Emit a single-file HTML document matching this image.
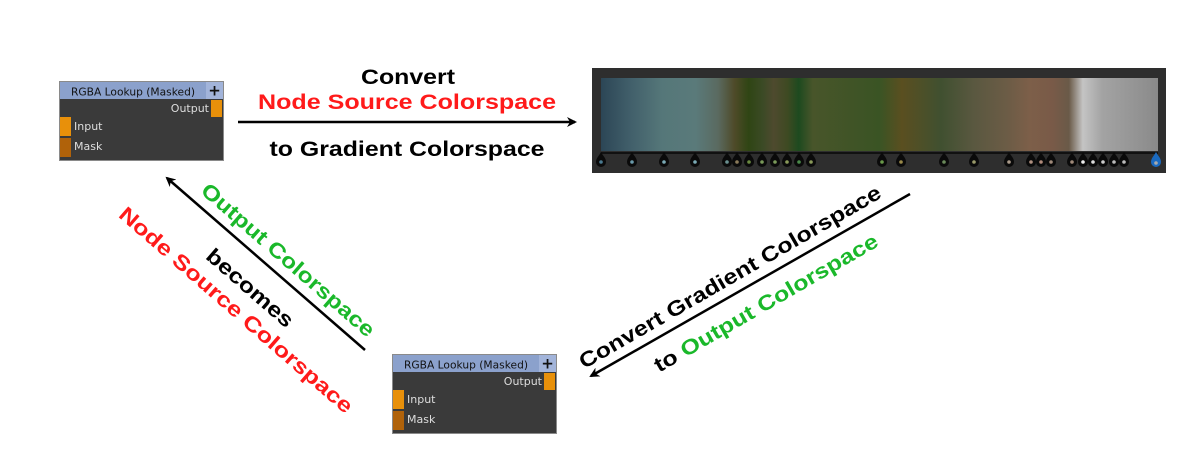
<!DOCTYPE html>
<html><head><meta charset="utf-8"><style>
html,body{margin:0;padding:0;background:#fff;width:1200px;height:468px;overflow:hidden}
svg{display:block}
.t{font-family:"Liberation Sans",sans-serif;font-weight:bold;font-size:21px}
.n{font-family:"DejaVu Sans","Liberation Sans",sans-serif;font-size:11px}
</style></head><body>
<svg width="1200" height="468" viewBox="0 0 1200 468" xmlns="http://www.w3.org/2000/svg">
<defs>
<linearGradient id="g" x1="0" x2="1" y1="0" y2="0">
<stop offset="0" stop-color="#2c4656"/>
<stop offset="0.055" stop-color="#42606b"/>
<stop offset="0.11" stop-color="#557779"/>
<stop offset="0.17" stop-color="#5a7a7a"/>
<stop offset="0.21" stop-color="#5a6a60"/>
<stop offset="0.24" stop-color="#4e4a28"/>
<stop offset="0.265" stop-color="#2f4514"/>
<stop offset="0.29" stop-color="#3b4a25"/>
<stop offset="0.31" stop-color="#4e4a2e"/>
<stop offset="0.335" stop-color="#3e4a22"/>
<stop offset="0.355" stop-color="#1d4a1f"/>
<stop offset="0.38" stop-color="#48552a"/>
<stop offset="0.5" stop-color="#3a5424"/>
<stop offset="0.54" stop-color="#5a4f20"/>
<stop offset="0.61" stop-color="#405030"/>
<stop offset="0.67" stop-color="#5a5840"/>
<stop offset="0.73" stop-color="#6c5c46"/>
<stop offset="0.77" stop-color="#7d5f49"/>
<stop offset="0.81" stop-color="#795a48"/>
<stop offset="0.84" stop-color="#6a5a48"/>
<stop offset="0.865" stop-color="#c4c4c4"/>
<stop offset="0.9" stop-color="#a3a3a3"/>
<stop offset="1" stop-color="#8a8a8a"/>
</linearGradient>
<marker id="a" markerWidth="10" markerHeight="10" refX="8" refY="5" orient="auto" markerUnits="userSpaceOnUse">
<path d="M0,0 L10,5 L0,10 L3,5 Z" fill="#000"/>
</marker>
<g id="node">
<rect x="0.5" y="0.5" width="164" height="79" fill="#3a3a3a" stroke="#8a8a8a"/>
<rect x="1" y="1" width="146" height="17" fill="#8ba1cc"/>
<rect x="147" y="1" width="17" height="17" fill="#a2b4da"/>
<text x="74" y="14.5" text-anchor="middle" class="n" fill="#111" textLength="124" lengthAdjust="spacingAndGlyphs">RGBA Lookup (Masked)</text>
<text x="155.5" y="14.5" text-anchor="middle" font-family="DejaVu Sans,sans-serif" font-size="15" font-weight="bold" fill="#111">+</text>
<text x="150" y="31" text-anchor="end" class="n" fill="#ddd">Output</text>
<rect x="152" y="19" width="11" height="17" fill="#e8900a"/>
<rect x="1" y="36" width="11" height="19" fill="#e8900a"/>
<text x="15" y="49" class="n" fill="#ddd">Input</text>
<rect x="1" y="57" width="11" height="19" fill="#b0620a"/>
<text x="15" y="69" class="n" fill="#ddd">Mask</text>
</g>
<g id="drop"><path d="M0,-8 C2,-4 5,-2 5,2 A5,5 0 0 1 -5,2 C-5,-2 -2,-4 0,-8 Z" fill="#0a0a0a"/></g>
</defs>

<use href="#node" x="59" y="81"/>
<use href="#node" x="392" y="354"/>

<rect x="592" y="68" width="574" height="105" fill="#2e2e2e"/>
<rect x="601" y="78" width="557" height="73" fill="url(#g)"/>
<line x1="601" y1="153" x2="1158" y2="153" stroke="#111" stroke-width="2"/>
<g transform="translate(0,1)">
<use href="#drop" x="601" y="159"/><circle cx="601" cy="161" r="1.8" fill="#4a7a90"/>
<use href="#drop" x="632" y="159"/><circle cx="632" cy="161" r="1.8" fill="#6a9aaa"/>
<use href="#drop" x="664" y="159"/><circle cx="664" cy="161" r="1.8" fill="#7aaab5"/>
<use href="#drop" x="695" y="159"/><circle cx="695" cy="161" r="1.8" fill="#7aaab5"/>
<use href="#drop" x="727" y="159"/><circle cx="727" cy="161" r="1.8" fill="#6a9090"/>
<use href="#drop" x="737" y="159"/><circle cx="737" cy="161" r="1.8" fill="#8a7a5a"/>
<use href="#drop" x="749" y="159"/><circle cx="749" cy="161" r="1.8" fill="#6a8a40"/>
<use href="#drop" x="762" y="159"/><circle cx="762" cy="161" r="1.8" fill="#7a9a5a"/>
<use href="#drop" x="775" y="159"/><circle cx="775" cy="161" r="1.8" fill="#7a9a5a"/>
<use href="#drop" x="787" y="159"/><circle cx="787" cy="161" r="1.8" fill="#8a9a5a"/>
<use href="#drop" x="799" y="159"/><circle cx="799" cy="161" r="1.8" fill="#4a8a4a"/>
<use href="#drop" x="811" y="159"/><circle cx="811" cy="161" r="1.8" fill="#8a9a5a"/>
<use href="#drop" x="882" y="159"/><circle cx="882" cy="161" r="1.8" fill="#6a9a4a"/>
<use href="#drop" x="901" y="159"/><circle cx="901" cy="161" r="1.8" fill="#9a8a4a"/>
<use href="#drop" x="944" y="159"/><circle cx="944" cy="161" r="1.8" fill="#6a8a5a"/>
<use href="#drop" x="974" y="159"/><circle cx="974" cy="161" r="1.8" fill="#9a9a6a"/>
<use href="#drop" x="1009" y="159"/><circle cx="1009" cy="161" r="1.8" fill="#aa9a8a"/>
<use href="#drop" x="1031" y="159"/><circle cx="1031" cy="161" r="1.8" fill="#b09080"/>
<use href="#drop" x="1041" y="159"/><circle cx="1041" cy="161" r="1.8" fill="#b08a7a"/>
<use href="#drop" x="1051" y="159"/><circle cx="1051" cy="161" r="1.8" fill="#a08a7a"/>
<use href="#drop" x="1072" y="159"/><circle cx="1072" cy="161" r="1.8" fill="#a08a7a"/>
<use href="#drop" x="1083" y="159"/><circle cx="1083" cy="161" r="1.8" fill="#eee"/>
<use href="#drop" x="1093" y="159"/><circle cx="1093" cy="161" r="1.8" fill="#ddd"/>
<use href="#drop" x="1103" y="159"/><circle cx="1103" cy="161" r="1.8" fill="#ccc"/>
<use href="#drop" x="1114" y="159"/><circle cx="1114" cy="161" r="1.8" fill="#bbb"/>
<use href="#drop" x="1124" y="159"/><circle cx="1124" cy="161" r="1.8" fill="#bbb"/>
<path d="M1156,151 C1158,155 1161,157 1161,161 A5,5 0 0 1 1151,161 C1151,157 1154,155 1156,151 Z" fill="#1a6ac0"/><circle cx="1156" cy="162" r="1.8" fill="#aaa"/>
</g>

<line x1="238" y1="122" x2="575" y2="122" stroke="#000" stroke-width="2.5" marker-end="url(#a)"/>
<line x1="910" y1="194" x2="591" y2="376" stroke="#000" stroke-width="2.5" marker-end="url(#a)"/>
<line x1="365" y1="350" x2="167" y2="178" stroke="#000" stroke-width="2.5" marker-end="url(#a)"/>

<text class="t" x="408" y="84" text-anchor="middle" textLength="94" lengthAdjust="spacingAndGlyphs" fill="#000">Convert</text>
<text class="t" x="407" y="109" text-anchor="middle" textLength="298" lengthAdjust="spacingAndGlyphs" fill="#ff1a1a">Node Source Colorspace</text>
<text class="t" x="407" y="156" text-anchor="middle" textLength="275" lengthAdjust="spacingAndGlyphs" fill="#000">to Gradient Colorspace</text>

<g transform="translate(288,260) rotate(41)">
<text class="t" x="0" y="7" text-anchor="middle" textLength="222" lengthAdjust="spacingAndGlyphs" fill="#1ab82a">Output Colorspace</text>
</g>
<g transform="translate(250,288) rotate(41)">
<text class="t" x="0" y="7" text-anchor="middle" textLength="108" lengthAdjust="spacingAndGlyphs" fill="#000">becomes</text>
</g>
<g transform="translate(236,310) rotate(41)">
<text class="t" x="0" y="7" text-anchor="middle" textLength="302" lengthAdjust="spacingAndGlyphs" fill="#ff1a1a">Node Source Colorspace</text>
</g>

<g transform="translate(730,277) rotate(-30)">
<text class="t" x="0" y="7" text-anchor="middle" textLength="345" lengthAdjust="spacingAndGlyphs" fill="#000">Convert Gradient Colorspace</text>
</g>
<g transform="translate(766,303) rotate(-30)">
<text class="t" x="0" y="7" text-anchor="middle" textLength="255" lengthAdjust="spacingAndGlyphs" fill="#000">to <tspan fill="#1ab82a">Output Colorspace</tspan></text>
</g>
</svg>
</body></html>
